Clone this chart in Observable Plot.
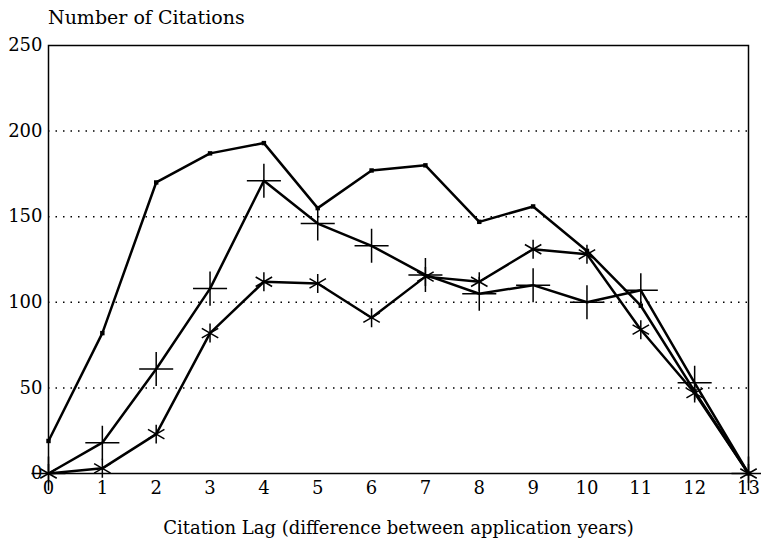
<!DOCTYPE html>
<html>
<head>
<meta charset="utf-8">
<script src="https://cdn.jsdelivr.net/npm/d3@7"></script>
<script src="https://cdn.jsdelivr.net/npm/@observablehq/plot@0.6"></script>
<style>
  body { margin: 0; background: #fff; font-family: "DejaVu Serif", serif; }
  #title { height: 35px; box-sizing: border-box; padding: 6px 0 0 48px; font-size: 19px; color: #000; }
</style>
</head>
<body>
<div id="title">Number of Citations</div>
<div id="chart"></div>
<script>
const lags = [0, 1, 2, 3, 4, 5, 6, 7, 8, 9, 10, 11, 12, 13];
const squareSeries = [19, 82, 170, 187, 193, 155, 177, 180, 147, 156, 130, 98, 48, 0];
const plusSeries = [0, 18, 61, 108, 171, 146, 133, 116, 105, 110, 100, 107, 53, 0];
const asteriskSeries = [0, 3, 23, 82, 112, 111, 91, 115, 112, 131, 128, 84, 47, 0];
const yTicks = [0, 50, 100, 150, 200, 250];
const gridTicks = [50, 100, 150, 200];

const series = [
  {name: "square", values: squareSeries},
  {name: "plus", values: plusSeries},
  {name: "asterisk", values: asteriskSeries}
];
const data = series.flatMap(s => s.values.map((v, i) => ({series: s.name, lag: lags[i], n: v})));

const chart = Plot.plot({
  width: 761,
  height: 510,
  marginTop: 10,
  marginBottom: 72,
  marginLeft: 48,
  marginRight: 13,
  style: {fontFamily: "DejaVu Serif, serif", fontSize: "18px", color: "#000", background: "#fff"},
  x: {domain: [0, 13], ticks: lags, tickSize: 0, tickPadding: 8, label: null, tickFormat: d => String(d)},
  y: {domain: [0, 250], ticks: yTicks, tickSize: 0, tickPadding: 6, label: null},
  marks: [
    Plot.ruleY(gridTicks, {stroke: "#000", strokeWidth: 1.5, strokeDasharray: "1.5,6"}),
    Plot.frame({stroke: "#000", strokeWidth: 1.5}),
    Plot.line(data, {x: "lag", y: "n", z: "series", stroke: "#000", strokeWidth: 2.5}),
    Plot.dot(data.filter(d => d.series === "square"), {x: "lag", y: "n", symbol: "square", fill: "#000", r: 2.5}),
    Plot.dot(data.filter(d => d.series === "plus"), {x: "lag", y: "n", symbol: "plus", stroke: "#000", strokeWidth: 1.5, r: 11}),
    Plot.dot(data.filter(d => d.series === "asterisk"), {x: "lag", y: "n", symbol: "asterisk", stroke: "#000", strokeWidth: 1.5, r: 9}),
    Plot.text(["Citation Lag (difference between application years)"], {frameAnchor: "bottom", dy: 60, fontSize: 18})
  ]
});
document.getElementById("chart").appendChild(chart);
</script>
</body>
</html>
